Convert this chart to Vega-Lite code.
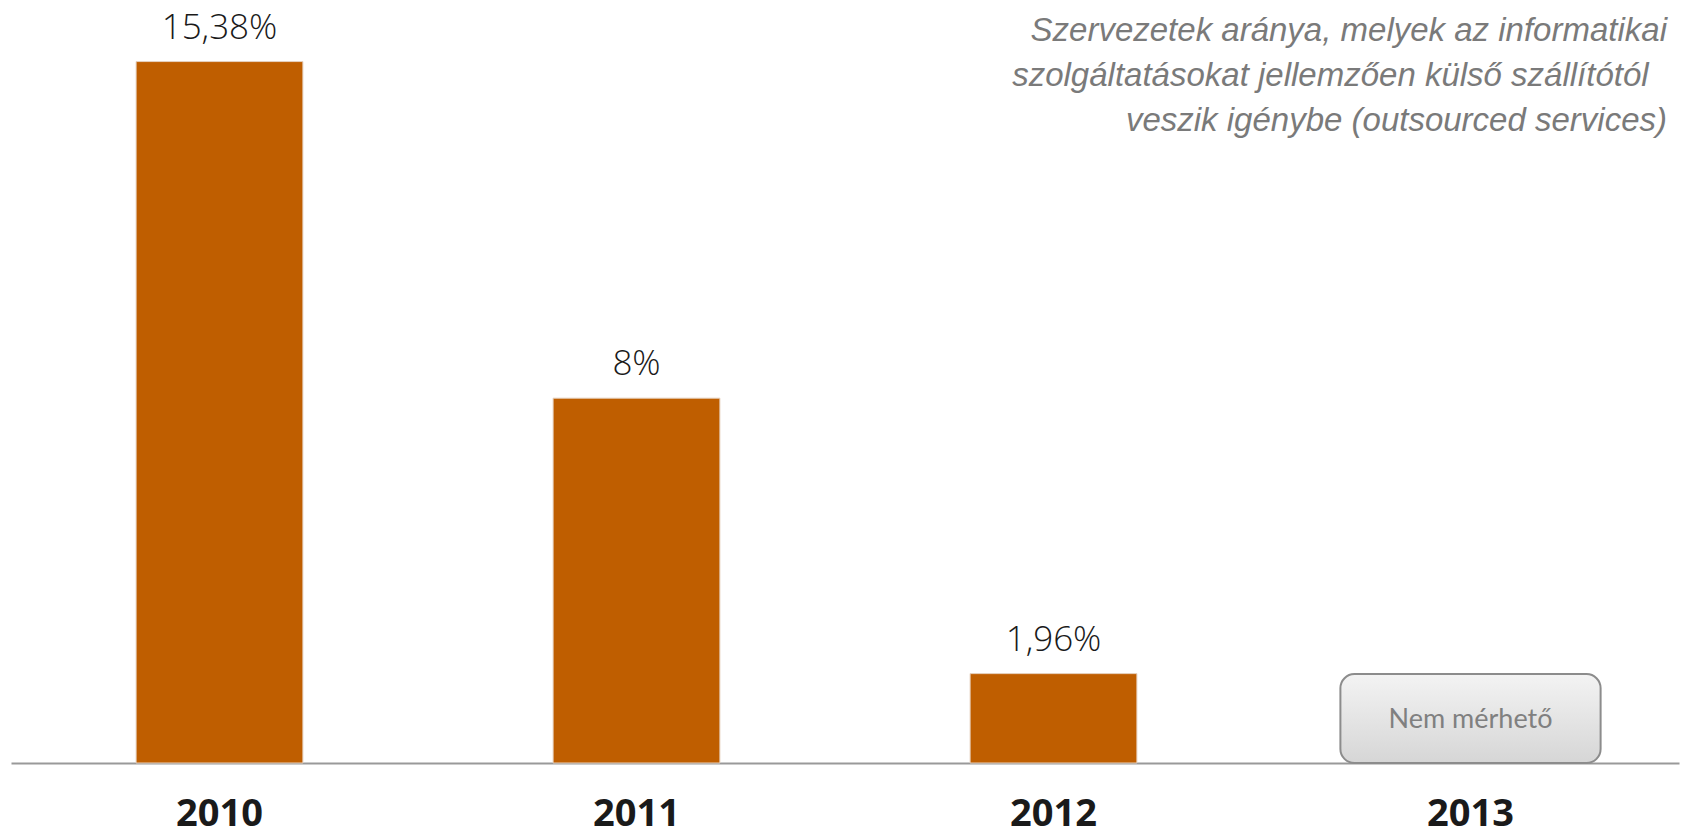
{
  "$schema": "https://vega.github.io/schema/vega-lite/v6.json",
  "width": 1668,
  "height": 763,
  "autosize": "none",
  "padding": {"left": 11, "top": 0, "right": 4, "bottom": 73},
  "background": "white",
  "config": {"view": {"stroke": null}},
  "title": {
    "text": ["Szervezetek aránya, melyek az informatikai", "szolgáltatásokat jellemzően külső szállítótól\u00a0\u00a0\u200b", "veszik igénybe (outsourced services)"],
    "anchor": "end",
    "frame": "group",
    "orient": "top",
    "offset": 0,
    "dy": 138,
    "dx": -12,
    "font": "Liberation Sans",
    "fontStyle": "italic",
    "fontWeight": "normal",
    "fontSize": 33,
    "lineHeight": 45,
    "color": "#7a7a7a"
  },
  "data": {
    "values": [
      {"year": "2010", "value": 15.38, "label": "15,38%"},
      {"year": "2011", "value": 8, "label": "8%"},
      {"year": "2012", "value": 1.96, "label": "1,96%"},
      {"year": "2013", "value": null, "label": "Nem mérhető"}
    ]
  },
  "encoding": {
    "x": {
      "field": "year",
      "type": "nominal",
      "sort": null,
      "scale": {"paddingInner": 0.6, "paddingOuter": 0.3},
      "axis": {
        "title": null,
        "labelAngle": 0,
        "labelFont": "Open Sans",
        "labelFontWeight": "bold",
        "labelFontSize": 38,
        "labelColor": "#1a1a1a",
        "labelBaseline": "alphabetic",
        "labelPadding": 62,
        "ticks": false,
        "tickSize": 0,
        "domainColor": "#999999",
        "domainWidth": 2,
        "grid": false
      }
    }
  },
  "layer": [
    {
      "transform": [{"filter": "datum.value != null"}],
      "mark": {"type": "bar", "color": "#BF5E00", "stroke": "#e6d2c0", "strokeWidth": 1},
      "encoding": {
        "y": {"field": "value", "type": "quantitative", "scale": {"domain": [0, 16.73], "nice": false, "zero": true}, "axis": null}
      }
    },
    {
      "transform": [{"filter": "datum.value != null"}],
      "mark": {"type": "text", "baseline": "alphabetic", "dy": -23, "font": "Open Sans", "fontWeight": 300, "fontSize": 35, "color": "#1a1a1a"},
      "encoding": {
        "y": {"field": "value", "type": "quantitative"},
        "text": {"field": "label"}
      }
    },
    {
      "transform": [{"filter": "datum.value == null"}],
      "mark": {
        "type": "bar",
        "width": {"band": 1.56},
        "cornerRadius": 14,
        "stroke": "#8c8c8c",
        "strokeWidth": 2,
        "fill": {"gradient": "linear", "x1": 0, "y1": 0, "x2": 0, "y2": 1, "stops": [{"offset": 0, "color": "#f3f3f3"}, {"offset": 1, "color": "#d6d6d6"}]}
      },
      "encoding": {
        "y": {"datum": 0, "type": "quantitative"},
        "y2": {"datum": 1.95}
      }
    },
    {
      "transform": [{"filter": "datum.value == null"}],
      "mark": {"type": "text", "baseline": "middle", "font": "Lato", "fontSize": 27, "color": "#808080"},
      "encoding": {
        "y": {"datum": 0.94, "type": "quantitative"},
        "text": {"field": "label"}
      }
    }
  ]
}
